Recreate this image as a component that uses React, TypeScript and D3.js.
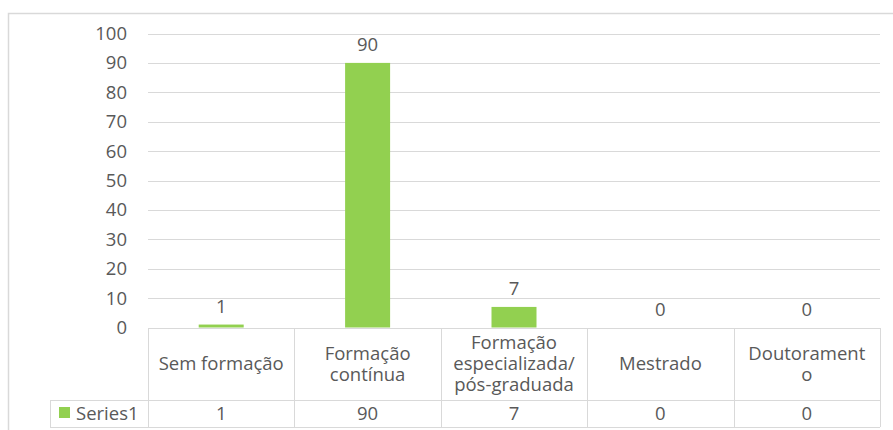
import React, { useEffect, useRef } from 'react';
import * as d3 from 'd3';

// chart data
const categories = ['Sem formação', 'Formação contínua', 'Formação especializada/pós-graduada', 'Mestrado', 'Doutoramento'];
const categoryLines = [['Sem formação'], ['Formação', 'contínua'], ['Formação', 'especializada/', 'pós-graduada'], ['Mestrado'], ['Doutorament', 'o']];
const series1 = [1, 90, 7, 0, 0];
const seriesName = 'Series1';
const yTicks = [0, 10, 20, 30, 40, 50, 60, 70, 80, 90, 100];

const W = 893;
const H = 430;
const GREEN = '#92D050';
const GRID = '#d9d9d9';
const TEXT = '#595959';
const FONT = '"Open Sans", "Noto Sans", sans-serif';
const FS = '18.5px';

const App = () => {
  const svgRef = useRef<SVGSVGElement>(null);

  useEffect(() => {
    const svg = d3.select(svgRef.current).attr('width', W).attr('height', H);
    svg.selectAll('*').remove();

    const margin = { top: 33.5, left: 148, right: 13 };
    const plotBottom = 327.5;
    const tableTop = 328;
    const headerBottom = 400;
    const tableBottom = 427;

    // chart area border (only left and top visible)
    svg.append('path')
      .attr('d', `M8.5,${H} V13.5 H${W}`)
      .attr('fill', 'none')
      .attr('stroke', GRID)
      .attr('stroke-width', 1.5);

    const x = d3.scaleBand<string>()
      .domain(categories)
      .range([margin.left, W - margin.right])
      .padding(0);

    const y = d3.scaleLinear().domain([0, 100]).range([plotBottom, margin.top]);

    // gridlines
    svg.append('g')
      .selectAll('line')
      .data(yTicks.filter(t => t > 0))
      .join('line')
      .attr('x1', margin.left)
      .attr('x2', W - margin.right)
      .attr('y1', d => Math.round(y(d)) + 0.5)
      .attr('y2', d => Math.round(y(d)) + 0.5)
      .attr('stroke', GRID)
      .attr('stroke-width', 1);

    // y tick labels
    svg.append('g')
      .selectAll('text')
      .data(yTicks)
      .join('text')
      .attr('x', 127)
      .attr('y', d => y(d))
      .attr('dy', '0.35em')
      .attr('text-anchor', 'end')
      .style('font-family', FONT)
      .style('font-size', FS)
      .style('fill', TEXT)
      .text(d => d);

    const barW = 45;
    svg.append('g')
      .selectAll('rect')
      .data(series1)
      .join('rect')
      .attr('x', (d, i) => x(categories[i])! + x.bandwidth() / 2 - barW / 2)
      .attr('width', barW)
      .attr('y', d => y(d))
      .attr('height', d => plotBottom - y(d))
      .attr('fill', GREEN);

    // data labels
    svg.append('g')
      .selectAll('text')
      .data(series1)
      .join('text')
      .attr('x', (d, i) => x(categories[i])! + x.bandwidth() / 2)
      .attr('y', d => y(d) - 18)
      .attr('dy', '0.35em')
      .attr('text-anchor', 'middle')
      .style('font-family', FONT)
      .style('font-size', FS)
      .style('fill', TEXT)
      .text(d => d);

    // data table
    const table = svg.append('g');
    const hline = (x1: number, x2: number, yy: number) =>
      table.append('line').attr('x1', x1).attr('x2', x2).attr('y1', yy + 0.5).attr('y2', yy + 0.5)
        .attr('stroke', GRID).attr('stroke-width', 1);
    const vline = (xx: number, y1: number, y2: number) =>
      table.append('line').attr('x1', Math.round(xx) + 0.5).attr('x2', Math.round(xx) + 0.5).attr('y1', y1).attr('y2', y2)
        .attr('stroke', GRID).attr('stroke-width', 1);

    hline(margin.left, W - margin.right, tableTop);
    hline(50, W - margin.right, headerBottom);
    hline(50, W - margin.right, tableBottom);
    vline(50, headerBottom, tableBottom);
    categories.forEach(c => vline(x(c)!, tableTop, tableBottom));
    vline(W - margin.right, tableTop, tableBottom);

    // header labels, one text per wrapped line
    const headerMid = (tableTop + headerBottom) / 2;
    const lineH = 21;
    categories.forEach((c, i) => {
      const lines = categoryLines[i];
      const cx = x(c)! + x.bandwidth() / 2;
      lines.forEach((ln, j) => {
        table.append('text')
          .attr('x', cx)
          .attr('y', headerMid + (j - (lines.length - 1) / 2) * lineH)
          .attr('dy', '0.35em')
          .attr('text-anchor', 'middle')
          .style('font-family', FONT)
          .style('font-size', FS)
          .style('fill', TEXT)
          .text(ln);
      });
    });

    // series row
    const rowMid = (headerBottom + tableBottom) / 2 + 0.5;
    table.append('rect')
      .attr('x', 59).attr('y', 407).attr('width', 11).attr('height', 11)
      .attr('fill', GREEN);
    table.append('text')
      .attr('x', 76)
      .attr('y', rowMid)
      .attr('dy', '0.35em')
      .style('font-family', FONT)
      .style('font-size', FS)
      .style('fill', TEXT)
      .text(seriesName);

    table.selectAll('text.val')
      .data(series1)
      .join('text')
      .attr('class', 'val')
      .attr('x', (d, i) => x(categories[i])! + x.bandwidth() / 2)
      .attr('y', rowMid)
      .attr('dy', '0.35em')
      .attr('text-anchor', 'middle')
      .style('font-family', FONT)
      .style('font-size', FS)
      .style('fill', TEXT)
      .text(d => d);
  }, []);

  return (
    <div style={{ position: 'absolute', left: 0, top: 0, width: W, height: H, background: '#fff' }}>
      <svg ref={svgRef} style={{ display: 'block' }}></svg>
    </div>
  );
};

export default App;
